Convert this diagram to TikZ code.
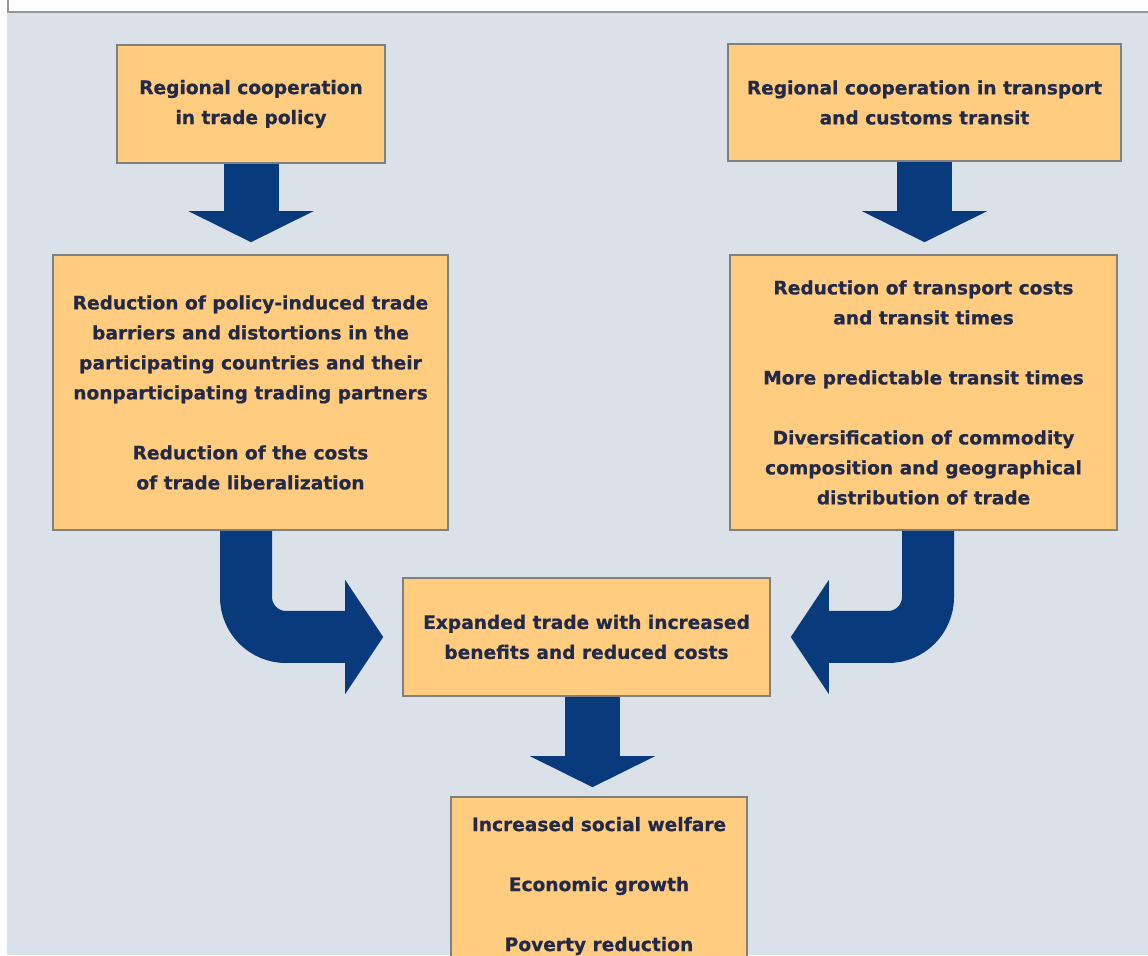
\documentclass[tikz,border=0pt]{standalone}
\usepackage{xcolor}
\usepackage{fontspec}
\setmainfont{DejaVu Sans}[BoldFeatures={FakeBold=0.6}]
\usepackage{tikz}
\usetikzlibrary{arrows.meta}

\definecolor{bgblue}{RGB}{218,225,233}
\definecolor{boxfill}{RGB}{255,204,128}
\definecolor{boxline}{RGB}{128,128,128}
\definecolor{framegray}{RGB}{150,150,150}
\definecolor{flowblue}{RGB}{9,59,124}
\definecolor{textnavy}{RGB}{34,42,72}

\begin{document}
\begin{tikzpicture}[x=0.5pt, y=-0.5pt,
    box/.style={draw=boxline, fill=boxfill, line width=0.8pt, align=center, text=textnavy,
        inner sep=0pt, font=\fontsize{9.3}{15}\selectfont\bfseries},
    flowarrow/.style={draw=flowblue, line width=27.5pt,
        -{Triangle[length=15.5pt, width=62.5pt, line width=0pt]}},
    elbowarrow/.style={draw=flowblue, line width=26pt, rounded corners=20pt,
        -{Triangle[length=19pt, width=57pt, line width=0pt]}}]
    \useasboundingbox (0, 0) rectangle (1148, 956);
    \clip (0, 0) rectangle (1148, 956);
    \fill[white] (0, 0) rectangle (1148, 956);
    \fill[bgblue] (7, 13) rectangle (1148, 955);
    \draw[framegray, line width=1pt] (7.5, 0) |- (1148, 12.5);

    \node[box, minimum width=134pt, minimum height=59pt] at (251, 104) (1) {Regional cooperation\\in trade policy};
    \node[box, minimum width=196.5pt, minimum height=58.5pt] at (924.5, 102.5) (2) {Regional cooperation in transport\\and customs transit};
    \node[box, minimum width=197.5pt, minimum height=137.5pt] at (250.5, 392.5) (3) {Reduction of policy-induced trade\\barriers and distortions in the\\participating countries and their\\nonparticipating trading partners\\[15pt]Reduction of the costs\\of trade liberalization};
    \node[box, minimum width=193.5pt, minimum height=137.5pt] at (923.5, 392.5) (4) {Reduction of transport costs\\and transit times\\[15pt]More predictable transit times\\[15pt]Diversification of commodity\\composition and geographical\\distribution of trade};
    \node[box, minimum width=183.5pt, minimum height=59pt] at (586.5, 637) (5) {Expanded trade with increased\\benefits and reduced costs};
    \node[box, minimum width=148pt, minimum height=89pt] at (599, 886) (6) {Increased social welfare\\[15pt]Economic growth\\[15pt]Poverty reduction};

    \draw[flowarrow, shorten >=6pt] (1.south) -- (1.south |- 3.north);
    \draw[flowarrow, shorten >=6pt] (2.south) -- (2.south |- 4.north);
    \draw[flowarrow, shorten >=4.5pt] ([xshift=3pt]5.south) -- ([xshift=3pt]5.south |- 6.north);
    \draw[elbowarrow, shorten >=9.5pt] ([xshift=-2.25pt]3.south) |- (5.west);
    \draw[elbowarrow, shorten >=10pt] ([xshift=2.25pt]4.south) |- (5.east);
\end{tikzpicture}
\end{document}
